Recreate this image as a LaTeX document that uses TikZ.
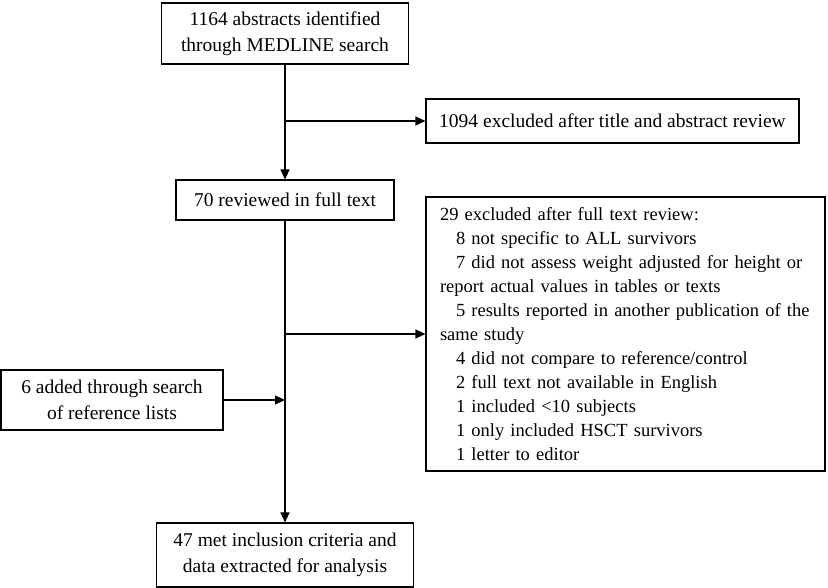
\documentclass[tikz,border=0pt]{standalone}
\usepackage{fontspec}
\setmainfont{Liberation Serif}
\usetikzlibrary{arrows.meta}
\tikzset{
	box/.style={draw, line width=1.1pt, fill=white, inner sep=0pt, align=center, font=\fontsize{19.5}{26}\selectfont},
	flow/.style={line width=1.1pt, -{Triangle[length=10pt,width=9pt]}},
}

\begin{document}
\begin{tikzpicture}[x=1pt,y=1pt]
		%\draw[help lines] (0,0) grid (828,588);
		\useasboundingbox (0,0) rectangle (828,588);
		
		\node[box, minimum width=247pt, minimum height=61pt] (search) at (285,554.5) {1164 abstracts identified\\through MEDLINE search};%start
		\node[box, minimum width=373pt, minimum height=44pt] (titleexcl) at (612.5,467) {1094 excluded after title and abstract review};
		\node[box, minimum width=218pt, minimum height=40pt] (fulltext) at (285,388) {70 reviewed in full text};
		
		\node[box, minimum width=399pt, minimum height=274pt, text width=371pt, align=left, font=\fontsize{18.5}{24}\selectfont] (fullexcl) at (625.5,254) {29 excluded after full text review:\\
			\hspace*{16pt}8 not specific to ALL survivors\\
			\hspace*{16pt}7 did not assess weight adjusted for height or\\
			report actual values in tables or texts\\
			\hspace*{16pt}5 results reported in another publication of the\\
			same study\\
			\hspace*{16pt}4 did not compare to reference/control\\
			\hspace*{16pt}2 full text not available in English\\
			\hspace*{16pt}1 included <10 subjects\\
			\hspace*{16pt}1 only included HSCT survivors\\
			\hspace*{16pt}1 letter to editor};%reasons
		
		\node[box, minimum width=222pt, minimum height=60pt] (refs) at (112,188) {6 added through search\\of reference lists};
		\node[box, minimum width=257pt, minimum height=64pt] (included) at (285,33) {47 met inclusion criteria and\\data extracted for analysis};%end
		
		
		\draw[flow] (search.south) -- (fulltext.north);
		\draw[flow] (search.south |- titleexcl.west) -- (titleexcl.west);
		\draw[flow] (fulltext.south) -- (included.north);
		\draw[flow] (fulltext.south |- fullexcl.west) -- (fullexcl.west);
		\draw[flow] (refs.east) -- (fulltext.south |- refs.east);
		\end{tikzpicture}
\end{document}
